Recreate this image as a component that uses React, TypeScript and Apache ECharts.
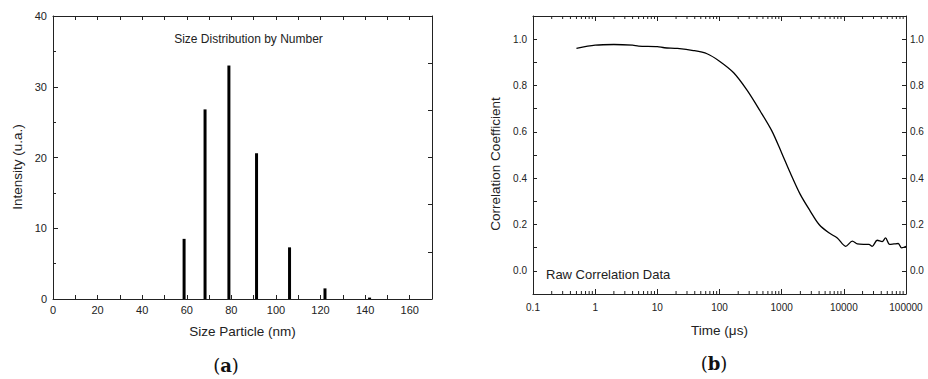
import React, { useEffect, useRef } from "react";
import * as echarts from "echarts";

// (a) size distribution by number
const particleSizes = [58.8, 68.2, 78.9, 91.3, 106.1, 122.0, 142.0];
const intensities = [8.5, 26.8, 33.0, 20.6, 7.3, 1.5, 0.2];

// (b) raw correlation data
const timeUs = [
  0.5, 1, 2, 4, 5, 10, 13, 21, 38, 63, 100, 169, 277, 453, 698, 1000, 1374,
  1990, 2880, 4000, 5750, 7850, 10700, 13700, 16500, 20700, 25300, 28600,
  34400, 41400, 46800, 54600, 64000, 75000, 85000, 100000,
];
const correlation = [
  0.96, 0.974, 0.977, 0.974, 0.97, 0.968, 0.963, 0.96, 0.951, 0.937, 0.905,
  0.855, 0.78, 0.689, 0.603, 0.509, 0.423, 0.33, 0.258, 0.2, 0.164, 0.142,
  0.106, 0.128, 0.116, 0.114, 0.114, 0.106, 0.132, 0.126, 0.142, 0.114, 0.116,
  0.118, 0.099, 0.106,
];

// log-axis minor tick values (2..9 within each decade)
const decades = [0.1, 1, 10, 100, 1000, 10000];
const minorMultipliers = [2, 3, 4, 5, 6, 7, 8, 9];

const FONT = "'Liberation Sans', Arial, sans-serif";
const TXT = "#222";
const LINE = "#222";

export default function App() {
  const ref = useRef<HTMLDivElement>(null);

  useEffect(() => {
    if (!ref.current) return;
    const chart = echarts.init(ref.current, undefined, { renderer: "svg" });

    const logMinor: number[] = [];
    decades.forEach((d) =>
      minorMultipliers.forEach((m) => logMinor.push(parseFloat((d * m).toPrecision(6))))
    );

    const axisLine = { show: true, onZero: false, lineStyle: { color: LINE, width: 1 } };
    const tickStyle = { color: LINE, width: 1 };
    const noSplit = { show: false };
    const corrFmt = (v: number) => {
      const k = Math.round(v * 10);
      return k >= 0 && k <= 10 && k % 2 === 0 ? (k / 10).toFixed(1) : "";
    };

    const option: any = {
      animation: false,
      grid: [
        { left: 53, top: 16, width: 379, height: 283 },
        { left: 533, top: 16, width: 373, height: 278 },
      ],
      xAxis: [
        {
          gridIndex: 0,
          type: "value",
          position: "bottom",
          min: 0,
          max: 170,
          interval: 10,
          axisLine,
          splitLine: noSplit,
          axisTick: { inside: true, length: 4, lineStyle: tickStyle },
          axisLabel: {
            formatter: (v: number) => (Math.round(v) % 20 === 0 && v <= 160 ? String(Math.round(v)) : ""),
            fontSize: 11,
            fontFamily: FONT,
            color: TXT,
            margin: 5,
          },
        },
        {
          gridIndex: 0,
          type: "value",
          position: "top",
          min: 0,
          max: 170,
          interval: 10,
          axisLine,
          splitLine: noSplit,
          axisTick: { inside: true, length: 4, lineStyle: tickStyle },
          axisLabel: { show: false },
        },
        {
          gridIndex: 1,
          type: "log",
          logBase: 10,
          position: "bottom",
          min: 0.1,
          max: 100000,
          axisLine,
          splitLine: noSplit,
          axisTick: { inside: true, length: 5, lineStyle: tickStyle },
          axisLabel: {
            formatter: (v: number) => String(parseFloat(Number(v).toPrecision(6))),
            fontSize: 10,
            fontFamily: FONT,
            color: TXT,
            margin: 8,
            showMinLabel: true,
            showMaxLabel: true,
          },
        },
        {
          gridIndex: 1,
          type: "log",
          logBase: 10,
          position: "top",
          min: 0.1,
          max: 100000,
          axisLine,
          splitLine: noSplit,
          axisTick: { inside: true, length: 5, lineStyle: tickStyle },
          axisLabel: { show: false },
        },
      ],
      yAxis: [
        {
          gridIndex: 0,
          type: "value",
          position: "left",
          min: 0,
          max: 40,
          interval: 10,
          axisLine,
          splitLine: noSplit,
          axisTick: { inside: true, length: 5, lineStyle: tickStyle },
          minorTick: { show: true, splitNumber: 2, length: 3, lineStyle: tickStyle },
          axisLabel: { fontSize: 11, fontFamily: FONT, color: TXT, margin: 6 },
        },
        {
          gridIndex: 0,
          type: "value",
          position: "right",
          min: 0,
          max: 40,
          interval: 40 / 6,
          axisLine,
          splitLine: noSplit,
          axisTick: { inside: true, length: 4, lineStyle: tickStyle },
          axisLabel: { show: false },
        },
        {
          gridIndex: 1,
          type: "value",
          position: "left",
          min: -0.1,
          max: 1.1,
          interval: 0.1,
          axisLine,
          splitLine: noSplit,
          axisTick: { inside: true, length: 4, lineStyle: tickStyle },
          axisLabel: { formatter: corrFmt, fontSize: 10, fontFamily: FONT, color: TXT, margin: 6 },
        },
        {
          gridIndex: 1,
          type: "value",
          position: "right",
          min: -0.1,
          max: 1.1,
          interval: 0.1,
          axisLine,
          splitLine: noSplit,
          axisTick: { inside: true, length: 4, lineStyle: tickStyle },
          axisLabel: { formatter: corrFmt, fontSize: 10, fontFamily: FONT, color: TXT, margin: 4 },
        },
      ],
      series: [
        {
          type: "bar",
          xAxisIndex: 0,
          yAxisIndex: 0,
          barWidth: 3,
          itemStyle: { color: "#000" },
          data: particleSizes.map((s, i) => [s, intensities[i]]),
        },
        {
          type: "line",
          xAxisIndex: 2,
          yAxisIndex: 2,
          showSymbol: false,
          smooth: 0.3,
          lineStyle: { color: "#000", width: 1.3 },
          data: timeUs.map((t, i) => [t, correlation[i]]),
        },
        {
          type: "custom",
          xAxisIndex: 2,
          yAxisIndex: 2,
          silent: true,
          clip: false,
          data: logMinor.map((v) => [v, 0]),
          encode: { x: 0, y: 1 },
          renderItem: (_p: any, api: any) => {
            const v = api.value(0);
            const b = api.coord([v, -0.1]);
            const t = api.coord([v, 1.1]);
            return {
              type: "group",
              children: [
                { type: "line", shape: { x1: b[0], y1: b[1], x2: b[0], y2: b[1] - 3 }, style: { stroke: LINE, lineWidth: 1 } },
                { type: "line", shape: { x1: t[0], y1: t[1], x2: t[0], y2: t[1] + 3 }, style: { stroke: LINE, lineWidth: 1 } },
              ],
            };
          },
        },
      ],
      graphic: [
        {
          type: "text",
          x: 248.5,
          y: 38.7,
          style: { text: "Size Distribution by Number", font: `12px ${FONT}`, fill: TXT, align: "center", verticalAlign: "middle" },
        },
        {
          type: "text",
          x: 17.5,
          y: 167,
          rotation: Math.PI / 2,
          style: { text: "Intensity (u.a.)", font: `13.5px ${FONT}`, fill: TXT, align: "center", verticalAlign: "middle" },
        },
        {
          type: "text",
          x: 242.5,
          y: 331,
          style: { text: "Size Particle (nm)", font: `13.5px ${FONT}`, fill: TXT, align: "center", verticalAlign: "middle" },
        },
        {
          type: "text",
          x: 495,
          y: 164,
          rotation: Math.PI / 2,
          style: { text: "Correlation Coefficient", font: `13.5px ${FONT}`, fill: TXT, align: "center", verticalAlign: "middle" },
        },
        {
          type: "text",
          x: 719.5,
          y: 330,
          style: { text: "Time (μs)", font: `13.5px ${FONT}`, fill: TXT, align: "center", verticalAlign: "middle" },
        },
        {
          type: "text",
          x: 546,
          y: 274.5,
          style: { text: "Raw Correlation Data", font: `13px ${FONT}`, fill: TXT, align: "left", verticalAlign: "middle" },
        },
        {
          type: "text",
          x: 226,
          y: 365,
          style: {
            text: "{p|(}{b|a}{p|)}",
            align: "center",
            verticalAlign: "middle",
            rich: {
              p: { fontFamily: "'DejaVu Serif', serif", fontSize: 18, fill: "#111" },
              b: { fontFamily: "'DejaVu Serif', serif", fontSize: 18, fontWeight: "bold", fill: "#111" },
            },
          },
        },
        {
          type: "text",
          x: 714,
          y: 363,
          style: {
            text: "{p|(}{b|b}{p|)}",
            align: "center",
            verticalAlign: "middle",
            rich: {
              p: { fontFamily: "'DejaVu Serif', serif", fontSize: 18, fill: "#111" },
              b: { fontFamily: "'DejaVu Serif', serif", fontSize: 18, fontWeight: "bold", fill: "#111" },
            },
          },
        },
      ],
    };

    chart.setOption(option);
    return () => chart.dispose();
  }, []);

  return (
    <div
      ref={ref}
      style={{ position: "absolute", left: 0, top: 0, width: 928, height: 379, background: "#fff" }}
    />
  );
}
